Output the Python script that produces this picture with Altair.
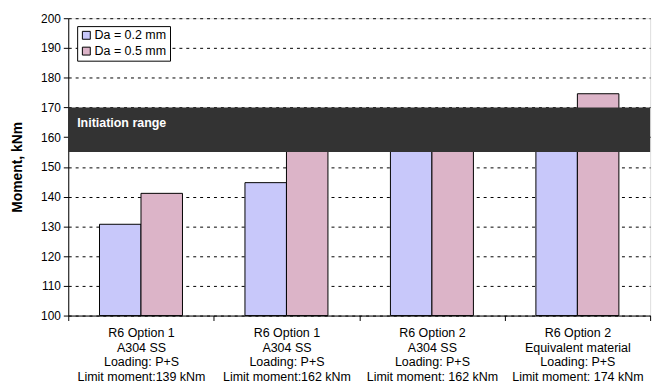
import altair as alt
import pandas as pd

groups = [
    "R6 Option 1|A304 SS|Loading: P+S|Limit moment:139 kNm",
    "R6 Option 1|A304 SS|Loading: P+S|Limit moment:162 kNm",
    "R6 Option 2|A304 SS|Loading: P+S|Limit moment: 162 kNm",
    "R6 Option 2|Equivalent material|Loading: P+S|Limit moment: 174 kNm",
]
series = ["Da = 0.2 mm", "Da = 0.5 mm"]
da02 = [130.7, 144.7, 158.0, 161.0]
da05 = [141.1, 160.0, 162.0, 174.6]
colors = ["#c8c8fa", "#dcb4c8"]
y_ticks = list(range(100, 201, 10))
band_lo, band_hi = 155, 170
band_label = "Initiation range"

rows = []
for g, a, b in zip(groups, da02, da05):
    rows.append({"group": g, "series": series[0], "value": a})
    rows.append({"group": g, "series": series[1], "value": b})
df = pd.DataFrame(rows)

FONT = "Liberation Sans"
FS = 12.6

x = alt.X(
    "group:N", sort=groups,
    scale=alt.Scale(paddingInner=0, paddingOuter=0),
    axis=alt.Axis(
        title=None, labelExpr="split(datum.label, '|')", labelAngle=0,
        tickBand="extent", labelFontSize=FS, labelLineHeight=15,
        labelPadding=6, tickSize=5, domainColor="black", tickColor="black",
        labelColor="black", labelFont=FONT, labelBaseline="top",
    ),
)
yscale = alt.Scale(domain=[100, 200], nice=False, zero=False)
yaxis = alt.Axis(
    values=y_ticks, title="Moment, kNm", titleFontWeight="bold",
    titleFontSize=14, titleFont=FONT, titleColor="black",
    grid=True, gridColor="black", gridDash=[3, 4], gridWidth=1,
    tickSize=5, labelFontSize=12, labelFont=FONT, labelColor="black",
    labelPadding=3, domainColor="black", tickColor="black",
    titleX=-51, titleY=150.5, titleAngle=270, titleAlign="center",
    titleBaseline="middle",
)

bars = alt.Chart(df).mark_bar(stroke="black", strokeWidth=1, opacity=1).encode(
    x=x,
    xOffset=alt.XOffset("series:N", sort=series,
                        scale=alt.Scale(paddingInner=0, paddingOuter=0.753)),
    y=alt.Y("value:Q", scale=yscale, axis=yaxis),
    y2=alt.datum(100),
    color=alt.Color(
        "series:N", sort=series,
        scale=alt.Scale(domain=series, range=colors),
        legend=alt.Legend(
            title=None, orient="none", legendX=9, legendY=8,
            strokeColor="black", fillColor="white", padding=3,
            symbolType="square", symbolSize=64, symbolStrokeColor="black",
            symbolStrokeWidth=1, symbolOpacity=1, labelFontSize=FS,
            labelFont=FONT, labelColor="black", rowPadding=3, labelOffset=2,
            cornerRadius=0,
        ),
    ),
)

band_df = pd.DataFrame({"lo": [band_lo], "hi": [band_hi], "label": [band_label],
                        "mid": [(band_lo + band_hi) / 2]})
band = alt.Chart(band_df).mark_rect(color="#333333", opacity=1).encode(
    y=alt.Y("lo:Q", scale=yscale, axis=yaxis, title="Moment, kNm"), y2="hi:Q"
)
band_text = alt.Chart(band_df).mark_text(
    align="left", baseline="middle", color="white", fontWeight="bold",
    fontSize=FS, font=FONT, dy=-7,
).encode(x=alt.value(9), y=alt.Y("mid:Q", scale=yscale, axis=yaxis, title="Moment, kNm"),
         text="label:N")

chart = alt.layer(bars, band, band_text).properties(
    width=589, height=301,
    autosize=alt.AutoSizeParams(type="none"),
    padding={"left": 61, "top": 8, "right": 10, "bottom": 72},
).configure_view(stroke="black", strokeWidth=1).configure(background="white")

chart.save("out.html", embed_options={"renderer": "svg", "actions": False})
